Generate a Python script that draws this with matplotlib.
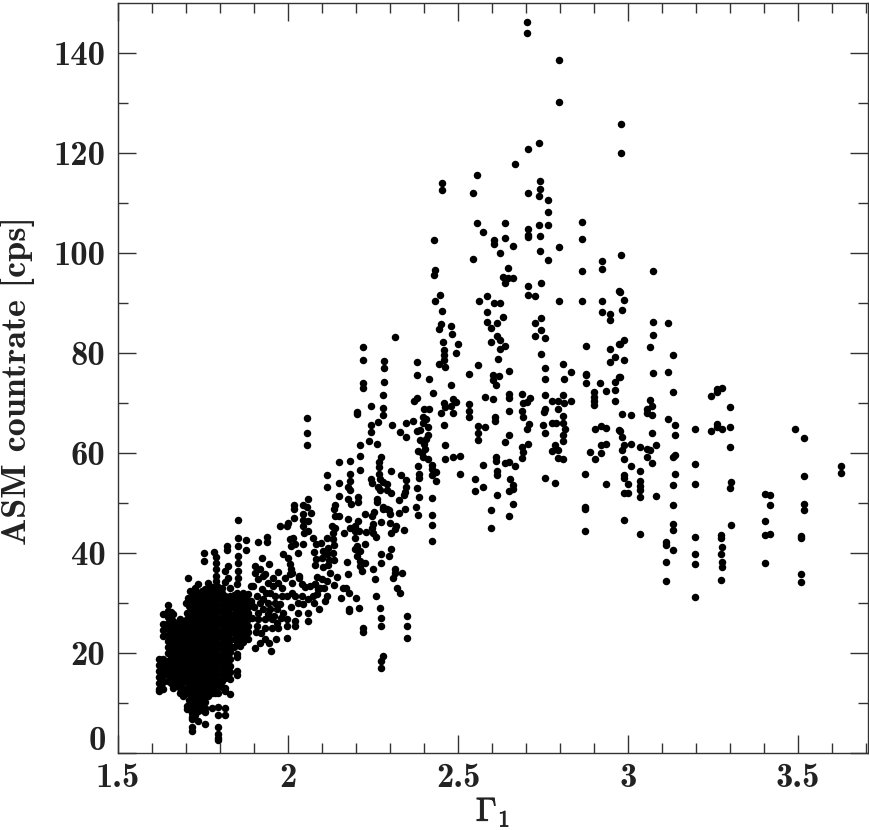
import numpy as np
import matplotlib
matplotlib.use("Agg")
import matplotlib.pyplot as plt
import matplotlib.patheffects as pe

plt.rcParams["mathtext.fontset"] = "cm"

# Sparse points, soft end of the diagram (Gamma > 2.7)
soft = [
    (3.075,86.2),(3.117,85.9),(3.075,83.5),(3.065,81.1),(3.133,79.5),(3.075,76.0),(3.117,76.1),(3.133,72.1),
    (3.244,71.3),(3.262,72.1),(3.262,72.8),(3.277,72.9),(3.30,69.1),(3.065,70.5),(3.07,69.3),(3.055,68.8),
    (3.055,68.0),(3.07,67.6),(3.117,66.8),(3.138,65.5),(3.138,63.6),(3.197,64.8),(3.244,64.4),(3.262,65.7),
    (3.262,65.1),(3.277,64.8),(3.30,65.1),(3.30,61.1),(3.07,64.0),(3.492,64.7),(3.517,62.9),(3.627,57.3),
    (3.627,56.0),(3.517,55.3),(3.517,49.7),(3.517,48.5),(3.403,51.7),(3.419,51.6),(3.419,49.6),(3.403,46.5),
    (3.403,43.7),(3.419,43.9),(3.403,38.0),(3.508,43.5),(3.508,43.0),(3.508,35.9),(3.508,34.3),(3.304,54.1),
    (3.30,53.0),(3.304,45.6),(3.275,43.6),(3.275,43.1),(3.276,41.2),(3.275,39.9),(3.276,38.3),(3.276,37.2),
    (3.275,34.7),(3.197,57.8),(3.197,53.8),(3.197,43.2),(3.197,39.9),(3.197,37.8),(3.197,31.3),(3.138,59.5),
    (3.133,59.1),(3.138,55.7),(3.133,53.6),(3.133,49.6),(3.133,45.8),(3.133,44.7),(3.113,42.3),(3.113,41.7),
    (3.133,40.6),(3.113,38.3),(3.113,34.4),(3.083,51.3),(3.036,43.9),(2.989,46.7),(3.035,56.3),(3.035,54.3),
    (3.035,53.3),(3.035,52.5),(3.035,51.1),(3.01,57.3),(2.989,55.5),(2.989,55.0),(3.0,53.7),(3.0,52.0),
    (2.989,51.9),(2.989,58.8),(3.01,61.8),(2.988,61.6),(2.983,60.5),(2.983,63.1),(2.976,64.3),(3.035,61.1),
    (3.055,60.7),(3.066,60.6),(3.083,61.5),(3.055,59.1),(3.07,58.0),(2.983,67.7),(3.01,67.5),(2.989,90.5),
    (2.976,92.1),(2.982,88.5),(2.989,82.5),(2.976,81.7),(2.989,78.5),(2.976,75.1),
    (2.798,90.3),(2.864,90.3),(2.925,90.3),(2.925,88.1),(2.947,87.8),(2.947,86.5),(2.745,87),(2.727,86),
    (2.745,84.5),(2.727,83.3),(2.757,82.9),(2.745,79.7),(2.756,76.9),(2.81,77.8),(2.833,76.2),(2.755,74.7),
    (2.813,74.7),(2.877,81.3),(2.877,75.8),(2.877,75.5),(2.877,74),(2.947,80.8),(2.973,81.8),(2.963,79.1),
    (2.947,78.1),(2.973,75.1),(2.963,74.1),(2.919,74),(2.934,72.3),(2.963,72.6),(2.963,70.4),(2.901,72.1),
    (2.901,71.1),(2.901,70.3),(2.901,69.5),(2.756,71.6),(2.81,71.5),(2.776,70.3),(2.795,70.3),(2.812,69.9),
    (2.833,70.4),(2.757,68.8),(2.753,68.1),(2.795,68.7),(2.81,67.3),(2.751,65.5),(2.776,66),(2.788,65.9),
    (2.81,65.9),(2.815,64.8),(2.755,64),(2.81,63.5),(2.81,62.3),(2.786,61.5),(2.776,60.4),(2.795,60.5),
    (2.795,59),(2.81,58.7),(2.755,55),(2.786,53.9),(2.902,64.7),(2.92,65.3),(2.935,64.9),(2.973,64.5),
    (2.92,61.5),(2.935,61.8),(2.888,60.2),(2.92,59.9),(2.902,58.8),(2.873,55.8),(2.934,53.7),(2.873,49.2),
    (2.873,48.8),(2.873,44.5),
]

# Flare peak, top of the plot
peak = [
    (2.703,146.1),(2.703,143.9),(2.798,138.5),(2.798,130.2),(2.979,125.8),(2.979,119.9),(2.737,121.9),(2.705,120.8),
    (2.667,117.7),(2.556,115.5),(2.454,113.9),(2.454,112.5),(2.543,111.9),(2.74,114.3),(2.741,112.8),(2.737,111.3),
    (2.706,111.9),(2.764,110.5),(2.764,108.2),(2.556,106.0),(2.575,104.1),(2.638,105.9),(2.737,105.5),(2.764,105.6),
    (2.864,106.1),(2.864,102.8),(2.707,104.7),(2.707,103.5),(2.707,103.1),(2.741,103.4),(2.638,102.9),(2.607,102.5),
    (2.607,101.7),(2.429,102.5),(2.662,101.3),(2.625,100.0),(2.741,100.3),(2.798,101.2),(2.764,98.5),(2.543,98.7),
    (2.979,99.5),(2.925,98.3),(2.925,96.8),(3.075,96.4),(2.864,96.4),(2.647,97.0),(2.632,95.1),(2.647,94.9),
    (2.662,94.9),(2.638,94.0),(2.433,96.5),(2.429,95.6),(2.745,94.0),(2.706,93.3),(2.973,92.3),(2.448,91.5),
    (2.705,91.5),(2.727,91.3),(2.586,91.3),
    (2.433,90.3),(2.453,88.3),(2.561,90.4),(2.606,90),(2.625,89.9),(2.586,88.2),(2.633,87.1),(2.586,86.1),
    (2.615,86.0),(2.596,85.0),(2.449,85.8),(2.444,84.7),(2.48,85.3),(2.482,83.8),(2.457,82.1),(2.501,81.7),
    (2.459,80.6),(2.494,80.0),(2.459,79.5),(2.459,78.5),(2.444,77.7),(2.462,77.1),(2.597,82.1),(2.616,83.3),
    (2.623,82.5),(2.623,80.8),(2.637,81.3),(2.618,78.8),(2.559,77.5),(2.532,75.8),(2.65,76.4),(2.604,75.6),
    (2.621,75.3),(2.602,74.5),(2.613,73.6),(2.48,73.5),(2.414,74.7),(2.427,72.0),(2.58,71.1),(2.604,70.8),
    (2.65,71.8),(2.65,70.9),(2.689,71.7),(2.712,71.0),(2.704,70.1),(2.69,69.9),(2.65,68.3),(2.688,68.3),
    (2.692,67.1),(2.459,69.9),(2.486,70.7),(2.494,70.1),(2.48,69.4),(2.461,69.1),(2.45,67.9),(2.485,67.9),
    (2.532,69.8),(2.532,68.4),(2.532,67.1),(2.415,68.8),(2.459,65.6),(2.61,67.1),(2.61,66.3),(2.559,65.4),
    (2.58,65.2),(2.559,63.9),(2.559,62.5),(2.65,63.6),(2.639,62.1),(2.709,65.7),(2.704,64.8),(2.705,61.8),
    (2.689,61.1),(2.692,60.1),(2.688,58.9),(2.463,61.5),(2.463,58.7),(2.485,59.1),(2.507,59.3),(2.507,55.7),
    (2.574,57.5),(2.613,59.1),(2.613,58.3),(2.639,57.9),(2.651,58.1),(2.669,57.4),(2.616,56.3),(2.614,55.5),
    (2.55,54.7),(2.652,54.8),(2.574,53.2),(2.55,52.3),(2.662,53.6),(2.663,52.8),(2.651,52.4),(2.615,51.5),
    (2.663,49.9),(2.597,48.5),(2.651,47.4),(2.597,45.0),(2.424,51),(2.424,47.6),(2.424,45.7),(2.424,42.5),
    (2.424,57.5),(2.424,56.7),(2.435,56.1),(2.425,55.6),(2.435,54.3),
]

# Middle of the rising branch
rising = [
    (2.314,83.2),(2.221,81.1),(2.221,78.5),(2.282,78.3),(2.282,77),(2.282,74.1),(2.221,74),(2.221,73),
    (2.28,71.5),(2.378,78.1),(2.378,75.6),(2.38,70.9),(2.37,70.4),(2.244,69.3),(2.28,69),(2.203,68.1),
    (2.203,67.7),(2.28,67.5),(2.056,66.9),(2.056,63.9),(2.056,61.5),(2.265,66.1),(2.243,65.6),(2.306,65.6),
    (2.347,66),(2.368,66.3),(2.4,68.7),(2.396,67.1),(2.405,66.8),(2.398,66),(2.412,65.1),(2.388,64.5),
    (2.38,64.3),(2.243,64.1),(2.33,64.1),(2.347,63.2),(2.412,63.6),(2.407,62.8),(2.388,62.5),(2.4,61.8),
    (2.239,62.3),(2.262,61.7),(2.211,61.6),(2.382,60.3),(2.393,60),(2.402,60.8),(2.398,59.1),(2.412,58.8),
    (2.211,59.4),(2.275,59.1),(2.268,58.1),(2.268,57.1),(2.15,58.1),(2.181,58.3),(2.383,57.3),(2.211,56.5),
    (2.302,56.3),(2.331,55.5),(2.115,55.6),(2.181,55.8),(2.268,55.8),(2.386,55.8),(2.386,54.9),(2.347,54.5),
    (2.243,54.8),(2.246,54),(2.27,54.8),(2.28,54.1),(2.292,53.8),(2.15,53.9),(2.181,54.3),(2.115,53.1),
    (2.177,53.1),(2.182,52.6),(2.265,53.1),(2.27,52.5),(2.29,52.5),(2.302,52),(2.347,53.1),(2.344,52.1),
    (2.378,53),(2.385,51.1),(2.341,51.5),(2.15,51.3),(2.207,51.1),(2.207,50.1),(2.177,50.7),(2.184,49.7),
    (2.262,50.8),(2.262,50.1),(2.326,50.5),(2.059,50.8),(2.045,49.6),(2.056,49.3),(2.019,49.5),(2.019,48.9),
    (2.138,49.5),(2.135,48.8),(2.067,48.1),(2.043,47.8),(2.019,47.1),(2.045,46.7),(2.059,46.5),(2.045,45.5),
    (2.059,44.5),(2.047,44.1),(2.138,47.5),(2.151,47.5),(2.176,46.8),(2.207,46.5),(2.227,47.8),(2.246,47.5),
    (2.253,48.3),(2.28,49.3),(2.29,48.9),(2.298,48.5),(2.28,48.8),(2.3,47.8),(2.326,48.1),(2.344,48.8),
    (2.377,49.2),(2.383,47.7),(2.275,46.3),(2.3,46),(2.319,45.5),(2.314,44.8),(2.341,44.6),(2.302,44),
    (2.251,45.8),(2.246,45.1),(2.251,44.1),(2.258,43.3),(2.197,45.5),(2.182,45.1),(2.128,45.5),(2.138,45.1),
    (2.164,44.1),(2.197,44.5),(2.209,44.5),(2.229,44.3),(2.197,43.1),(2.133,44.1),(2.115,43),(2.133,42.8),
    (2.074,43.1),(2.015,43.1),(2.005,42.8),(1.996,45.5),(2.0,46),(1.976,45.5),(2.045,41.8),(2.02,41.8),
    (2.01,41.5),(2.081,41.9),(2.097,42.0),(2.118,41.1),(2.135,41.7),(2.077,40.3),(2.102,40.4),(2.116,39.9),
    (2.133,40.1),(2.083,38.9),(2.099,39.1),(2.121,38.6),(2.135,38.6),(2.078,37.6),(2.103,37.3),(2.118,37.6),
    (2.123,36),(2.203,41.5),(2.226,41.8),(2.197,40.8),(2.211,40.5),(2.203,39.5),(2.211,38.5),(2.226,38.1),
    (2.211,37.5),(2.219,36.5),(2.175,38.3),(2.177,35.8),(2.302,40.8),(2.275,39.9),(2.298,39.5),(2.275,38),
    (2.251,36.9),(2.314,36.9),(2.314,36.1),(2.334,36),(1.986,39.9),(2.0,39.1),(2.03,40.1),(2.005,37.8),
    (2.01,36.8),(2.033,35.5),(2.005,35.8),(2.084,35.3),(2.255,34.9),
    (2.35,27.5),(2.35,25.5),(2.35,23),(2.28,19.5),(2.275,18.5),(2.275,17),(2.22,25),(2.22,24.3),
    (2.27,29),(2.275,27),(2.275,25.5),(2.18,28.5),(2.32,33),(2.33,32),(2.31,35),(2.17,33),
    (2.26,31.5),(2.2,31),(2.21,29),
    # lower band, x 1.9 - 2.18
    (1.913,42.3),(1.937,43.3),(1.937,42.3),(1.923,39),(1.945,37.8),(1.903,37.5),(1.918,36.8),(1.903,36),
    (1.932,35.8),(1.898,33.5),(1.913,34.8),(1.927,35.5),(1.942,34.1),(1.957,33.5),(1.972,34.1),(1.982,33.1),
    (1.923,32.8),(1.947,32.1),(1.962,31.5),(1.982,31.5),(1.908,31.5),(1.927,30.8),(1.942,30.1),(1.962,30.1),
    (1.977,29.8),(1.913,28.1),(1.927,28.8),(1.947,28.8),(1.967,28.8),(1.913,26.8),(1.932,26.8),(1.952,26.8),
    (1.967,26.1),(1.908,25.5),(1.932,25.1),(1.952,25.1),(1.972,25.1),(1.996,26.8),(1.996,25.5),(2.021,26.5),
    (2.021,25.5),(2.03,28.1),(2.06,28.1),(2.06,26.5),(2.03,30.1),(2.045,29.8),(2.06,30.8),(2.075,31.5),
    (2.084,31.8),(2.089,32.8),(2.079,33.8),(2.079,33.8),(2.094,33.1),(2.105,33.1),(2.115,31.5),(2.109,30.5),
    (2.09,28.8),(2.077,30.1),(2.04,31.5),(2.021,31.5),(1.996,31.5),(2.011,32.1),(2.011,34.1),(2.011,36),
    (2.033,35.1),(2.163,33.1),(2.18,32.1),(2.18,28.8),(2.136,33.6),
    (1.903,21),(1.918,22.1),(1.932,22.9),(1.945,22.1),(1.964,22.8),(1.95,20.5),(1.996,23),
    (1.892,30.1),(1.9,29.2),(1.918,30),(1.935,32),(1.955,35),(1.97,36.2),(1.99,35),(2.05,33.2),
    (2.065,33.5),(2.1,34.8),(2.115,34.5),(2.145,35.2),(2.155,31),(2.04,33.9),(1.985,28),(2.008,29.2),
    (1.895,27),(1.905,24.3),(1.92,24),(1.94,27.8),(1.96,27.5),(1.98,27),
]

# Dense hard-state clump: one Gamma value per column, several count rates each
core_gamma = [1.62, 1.633, 1.648, 1.663, 1.682, 1.692, 1.702, 1.717, 1.736, 1.756, 1.776, 1.795, 1.815, 1.83, 1.849, 1.869, 1.883,
              1.626, 1.655, 1.672, 1.709, 1.726, 1.746, 1.766, 1.786, 1.805, 1.822, 1.84, 1.859, 1.876]
core_asm = [
    [18.8,17.6,16.4,15.2,14.0,12.8,12.5],
    [27.9,25.8,24.7,23.5,18.8,17.8,16.7,15.5,14.3,12.9],
    [29.6,28.5,27.3,26.1,25,23.7,22.5,21.3,20.1,18.5,17.1,15.8,14.5],
    [27.8,26.5,25.1,23.8,22.5,21.1,19.8,18.5,17.1,15.8,14.8,13.1],
    [26.8,25.6,24.4,23.2,22,20.8,19.6,18.4,17.2,16,14.8,13.9,13.1,12.1],
    [26.2,25,23.8,22.6,21.4,20.2,19,17.8,16.6,15.4,14.2,12.9,11.5],
    [28.1,26.9,25.6,24.4,23.1,21.9,20.6,19.4,18.1,16.9,15.6,14.4,13.1,12,9.5,8.8],
    [31.5,30.2,29,27.7,26.5,25.2,24,22.7,21.5,20.2,19,17.7,16.5,15.2,14,12.7,11.5,10.2,9,8.1,6.8,5.2,4.4,7.2],
    [32.1,30.9,29.6,28.4,27.1,25.9,24.6,23.4,22.1,20.9,19.6,18.4,17.1,15.9,14.6,13.4,12.1,10.9,9.6,8.4,6.5],
    [32.8,31.5,30.3,29,27.8,26.5,25.3,24,22.8,21.5,20.3,19,17.8,16.5,15.3,14,12.8,11.5,10.3,9,8.3,5.9],
    [33.2,32,30.7,29.5,28.2,27,25.7,24.5,23.2,22,20.7,19.5,18.2,17,15.7,14.5,13.2,12.1,9.0],
    [32.1,30.9,29.6,28.4,27.1,25.9,24.6,23.4,22.1,20.9,19.6,18.4,17.1,15.9,14.6,13.4,12.1,9.3,7.6,5.3,3.8,3.1,2.6],
    [31.5,30.3,29,27.8,26.5,25.3,24,22.8,21.5,20.3,19,17.8,16.5,15.3,15,13.1,12.4,9,7.7],
    [31.5,30.2,29,27.7,26.5,25.2,24,22.7,21.5,20.2,18.8,17.5,16.2,14.8,11.8],
    [32.1,30.9,29.6,28.4,27.1,25.9,24.6,23.4,22.2,19.8,19.2,16.5,15.6],
    [32.1,30.8,29.6,28.3,27.1,25.8,24.6,23.3,22.2],
    [31.8,30.5,29.3,28,26.8,25.5,24.3,22.8],
    [17.9,16.6,15.5,14.4,13.2],
    [28.2,26.9,25.6,24.3,23,21.8,20.4,19.2,17.9,16.5,15.2,14],
    [25.9,24.7,23.5,22.3,21.1,19.9,18.7,17.5,16.3,15.1,13.7],
    [29.5,28.2,27,25.7,24.5,23.2,22,20.7,19.5,18.2,17,15.7,14.5,13.2,12,10.7,9.5],
    [32.6,31.4,30.1,28.9,27.6,26.4,25.1,23.9,22.6,21.4,20.1,18.9,17.6,16.4,15.1,13.9,12.6,11.4,10.1,8.9,7.6],
    [32.4,31.2,29.9,28.7,27.4,26.2,24.9,23.7,22.4,21.2,19.9,18.7,17.4,16.2,14.9,13.7,12.4,11.2,9.9,8.7],
    [32.6,31.4,30.1,28.9,27.6,26.4,25.1,23.9,22.6,21.4,20.1,18.9,17.6,16.4,15.1,13.9,12.6,11.4],
    [32.8,31.6,30.3,29.1,27.8,26.6,25.3,24.1,22.8,21.6,20.3,19.1,17.8,16.6,15.3,14.1,12.8,12.1],
    [32,30.8,29.5,28.3,27,25.8,24.5,23.3,22,20.8,19.5,18.3,17,15.8,14.5,13.3],
    [31,29.8,28.5,27.3,26,24.8,23.5,22.3,21,19.8,18.5,17.3,16,15.2],
    [31.7,30.4,29.2,27.9,26.7,25.4,24.2,22.9,21.2],
    [31.5,30.2,29,27.7,26.5,25.2,24,22.8,21.4],
    [31.2,29.9,28.7,27.4,26.2,24.9,23.7,23],
]

# Fringe above the clump
fringe = [
    (1.854,46.6),(1.854,43),(1.876,42.7),(1.854,41.5),(1.876,40.6),(1.82,41.5),(1.82,40.7),(1.753,40),
    (1.753,38.5),(1.782,40.3),(1.788,39.3),(1.705,35.1),(1.788,38),(1.788,36.8),(1.788,35.5),(1.788,34.5),
    (1.79,33.5),(1.825,37.5),(1.815,36.5),(1.825,35),(1.815,34.2),(1.83,33),(1.854,39.5),(1.854,38),
    (1.854,36.5),(1.854,35),(1.849,33.8),(1.726,33),(1.772,33),(1.736,33.9),(1.765,34),(1.806,33),
    (1.706,31),(1.713,32.5),(1.7,30),(1.89,33.5),(1.89,30.5),
]

y_ticks = [0, 20, 40, 60, 80, 100, 120, 140]
x_ticks = [1.5, 2, 2.5, 3, 3.5]
x_tick_labels = ["1.5", "2", "2.5", "3", "3.5"]


def plot_points(ax, pairs):
    gamma, asm = np.array(pairs).T
    ax.plot(gamma, asm, ls="none", marker="o", ms=5.4, mec="black", mfc="black", mew=0)


fig = plt.figure(figsize=(8.7, 8.3), dpi=100)
ax = fig.add_axes([118 / 870, 77 / 830, 750 / 870, 750 / 830])

plot_points(ax, soft)
plot_points(ax, peak)
plot_points(ax, rising)
plot_points(ax, fringe)
for g, rates in zip(core_gamma, core_asm):
    plot_points(ax, [(g, r) for r in rates])

ax.set_xlim(1.5, 3.706)
ax.set_ylim(0, 150)

dark = "#333333"
text_col = "#222222"
for s in ax.spines.values():
    s.set_linewidth(1.0)
    s.set_color(dark)

ax.set_xticks(x_ticks)
ax.set_xticks(np.arange(1.5, 3.71, 0.1), minor=True)
ax.set_yticks(y_ticks)
ax.set_yticks(np.arange(0, 150, 10), minor=True)
ax.tick_params(which="major", length=13, width=1.0, direction="in", top=True, right=True, color=dark)
ax.tick_params(which="minor", length=7.5, width=1.0, direction="in", top=True, right=True, color=dark)
ax.tick_params(axis="x", which="major", pad=7)
ax.tick_params(axis="y", which="major", pad=9)

ax.set_xticklabels(x_tick_labels, family="cmb10", fontsize=25, color=text_col)
# the 0 label sits higher than its tick, so it is placed apart
ax.set_yticklabels([""] + [str(v) for v in y_ticks[1:]], family="cmb10", fontsize=25, color=text_col)
ax.annotate("0", xy=(0, 0), xycoords="axes fraction", xytext=(-8.5, 8.5), textcoords="offset points",
            ha="right", va="center", family="cmb10", fontsize=25, color=text_col)

xl = ax.set_xlabel(r"$\mathbf{\Gamma_1}$", fontsize=24, color=text_col, va="top")
xl.set_path_effects([pe.withStroke(linewidth=0.6, foreground=text_col)])
ax.xaxis.set_label_coords(0.5, -0.057)
ax.set_ylabel("ASM countrate [cps]", family="cmb10", fontsize=26, color=text_col)
ax.yaxis.set_label_coords(-0.1107, 0.497)

fig.savefig("out.png", dpi=100)
